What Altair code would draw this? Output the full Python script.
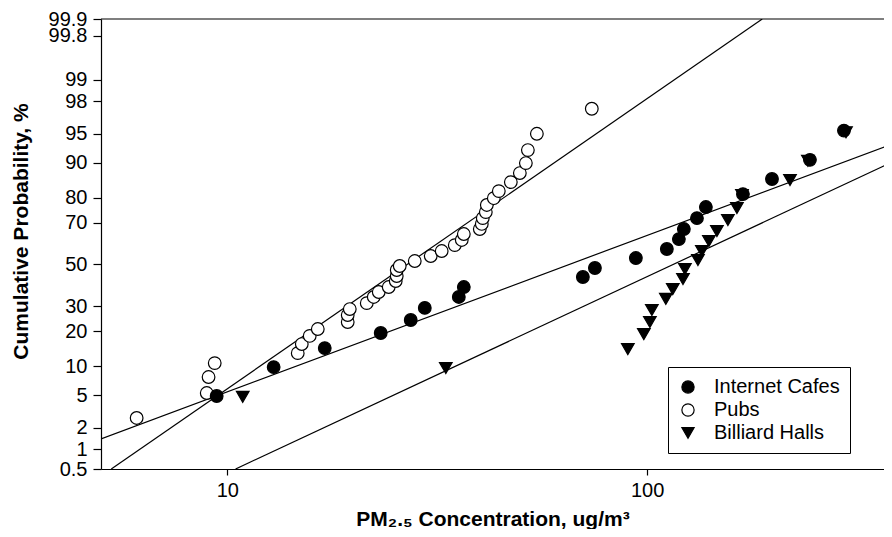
import altair as alt
import pandas as pd
from statistics import NormalDist

# ---- data ----
pub_x = [6.08, 8.93, 9.02, 9.33, 14.71, 15.04, 15.71, 16.42, 19.35, 19.35, 19.57, 21.48,
         22.32, 22.94, 24.23, 25.18, 25.32, 25.32, 25.74, 27.95, 30.51, 32.40, 34.81, 36.17,
         36.58, 39.93, 40.37, 40.59, 41.27, 41.50, 43.12, 44.32, 47.34, 49.74, 51.41, 51.98,
         54.61, 73.81]
pub_p = [2.66, 5.27, 7.81, 10.7, 13.2, 15.8, 18.4, 20.8, 23.4, 26.2, 28.7, 31.3, 34.1, 36.4,
         38.8, 41.7, 44.2, 47.2, 49.2, 51.7, 54.2, 56.7, 59.6, 62.1, 64.9, 67.2, 69.5, 72.0,
         74.5, 77.3, 79.8, 82.2, 85.0, 87.5, 89.9, 92.5, 95.0, 97.5]

cafe_x = [9.43, 12.89, 17.06, 23.19, 27.34, 29.53, 35.59, 36.58, 70.28, 75.08, 93.99, 111.4,
          119.0, 122.3, 131.4, 138.0, 169.1, 198.3, 244.2, 294.3]
cafe_p = [4.88, 9.8, 14.6, 19.4, 24.2, 29.2, 34.1, 38.8, 43.7, 48.2, 53.2, 57.7, 62.5, 67.2,
          72.0, 76.5, 81.2, 85.9, 90.6, 95.4]

bill_x = [10.88, 33.14, 89.95, 98.2, 101.5, 102.6, 110.8, 115.1, 121.7, 123.0, 132.1, 135.0,
          140.3, 146.6, 155.7, 163.6, 168.2, 218.9, 241.5, 297.6]
bill_p = [4.77, 9.6, 14.3, 19.0, 23.4, 28.3, 33.2, 37.8, 42.7, 47.7, 52.2, 56.7, 61.6, 66.3,
          71.2, 76.1, 80.9, 85.6, 90.4, 95.2]

# fitted lines (two end points each)
line_series = ["Pubs", "Internet Cafes", "Billiard Halls"]
line_x0 = [5.29, 5.0, 10.46]
line_p0 = [0.5, 1.40, 0.5]
line_x1 = [188.0, 383.0, 383.0]
line_p1 = [99.9, 93.5, 90.1]

series_order = ["Internet Cafes", "Pubs", "Billiard Halls"]
tick_pcts = [0.5, 1, 2, 5, 10, 20, 30, 50, 70, 80, 90, 95, 98, 99, 99.8, 99.9]
x_ticks = [10, 100]
x_domain = [5, 366.6]

FONT = "Liberation Sans"

# ---- tables ----
pts = pd.concat([
    pd.DataFrame({"series": "Billiard Halls", "x": bill_x, "p": bill_p}),
    pd.DataFrame({"series": "Pubs", "x": pub_x, "p": pub_p}),
    pd.DataFrame({"series": "Internet Cafes", "x": cafe_x, "p": cafe_p}),
], ignore_index=True)
pts["order"] = range(len(pts))

lines = pd.DataFrame({
    "series": line_series * 2,
    "x": line_x0 + line_x1,
    "p": line_p0 + line_p1,
})

z_ticks = [NormalDist().inv_cdf(p / 100) for p in tick_pcts]

x_enc = alt.X("x:Q",
              scale=alt.Scale(type="log", domain=x_domain, nice=False),
              axis=alt.Axis(values=x_ticks, format="d", title="PM₂.₅ Concentration, ug/m³",
                            titleBaseline="alphabetic", titleY=56))
y_enc = alt.Y("z:Q",
              scale=alt.Scale(domain=[z_ticks[0], z_ticks[-1]], nice=False, zero=False),
              axis=alt.Axis(values=z_ticks,
                            labelExpr="format(round(cumulativeNormal(datum.value)*1000)/10, '~f')",
                            title="Cumulative Probability, %", titleFontSize=21,
                            titleBaseline="alphabetic", titleX=-74, titleY=212,
                            tickSize=8, labelPadding=6, labelOverlap=False))

border = alt.Chart(pd.DataFrame({"a": [0]})).mark_rule(color="black", strokeWidth=1.2).encode(
    y=alt.value(0))

line_layer = alt.Chart(lines).transform_calculate(
    z="quantileNormal(datum.p / 100)"
).mark_line(color="black", strokeWidth=1.2, clip=True).encode(
    x=x_enc, y=y_enc, detail="series:N")

leg = alt.Legend(title=None, orient="none", legendX=567, legendY=348,
                 strokeColor="black", padding=10, rowPadding=3,
                 labelFontSize=20, labelFont=FONT, labelColor="black",
                 symbolSize=150, labelOffset=16, symbolStrokeWidth=1.2)

point_layer = alt.Chart(pts).transform_calculate(
    z="quantileNormal(datum.p / 100)"
).mark_point(strokeWidth=1.2, opacity=1, size=160, fillOpacity=1).encode(
    x=x_enc, y=y_enc,
    shape=alt.Shape("series:N",
                    scale=alt.Scale(domain=series_order,
                                    range=["circle", "circle", "triangle-down"]),
                    legend=leg),
    fill=alt.Fill("series:N",
                  scale=alt.Scale(domain=series_order, range=["black", "white", "black"]),
                  legend=leg),
    stroke=alt.Stroke("series:N",
                      scale=alt.Scale(domain=series_order, range=["black", "black", "black"]),
                      legend=leg),
    order=alt.Order("order:Q"),
)

chart = alt.layer(border, line_layer, point_layer).properties(
    width=783, height=450,
    autosize=alt.AutoSizeParams(type="none"),
    padding={"left": 93, "top": 11, "right": 0, "bottom": 60},
    background="white",
).configure_view(stroke=None).configure_axis(
    grid=False, domainColor="black", domainWidth=1.2, tickColor="black", tickWidth=1.2,
    labelColor="black", labelFont=FONT, labelFontSize=20,
    titleColor="black", titleFont=FONT, titleFontSize=21, titleFontWeight="bold",
).configure_axisX(tickSize=6, labelPadding=5)

chart.save("out.html", embed_options={"renderer": "svg", "actions": False})
